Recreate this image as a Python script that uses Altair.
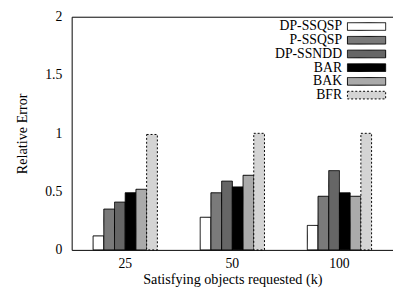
import altair as alt
import pandas as pd

groups = ["25", "50", "100"]
series = ["DP-SSQSP", "P-SSQSP", "DP-SSNDD", "BAR", "BAK", "BFR"]
dp_ssqsp = [0.12, 0.28, 0.21]
p_ssqsp = [0.35, 0.49, 0.46]
dp_ssndd = [0.41, 0.59, 0.68]
bar_vals = [0.49, 0.54, 0.49]
bak = [0.52, 0.64, 0.46]
bfr = [0.99, 1.00, 1.00]
y_ticks = [0, 0.5, 1, 1.5, 2]

fills = ["#ffffff", "#7a7a7a", "#666666", "#000000", "#aaaaaa", "#d4d4d4"]
strokes = ["#000000"] * 6
dashes = [[1, 0], [1, 0], [1, 0], [1, 0], [1, 0], [2, 2]]

values = [dp_ssqsp, p_ssqsp, dp_ssndd, bar_vals, bak, bfr]
rows = []
for s, vals in zip(series, values):
    for g, v in zip(groups, vals):
        rows.append({"k": g, "series": s, "value": v})
df = pd.DataFrame(rows)

FONT = "Liberation Serif, Times New Roman, serif"

legend = alt.Legend(
    title=None, orient="none", legendX=294, legendY=3,
    labelFont=FONT, labelFontSize=14, labelColor="black",
    labelAlign="right", labelOffset={"expr": "-32"},
    symbolType="M-3,-0.6H3V0.6H-3Z", symbolSize=169,
    symbolStrokeColor="black", symbolStrokeWidth=1, rowPadding={"expr": "-2"},
)

x_scale = alt.Scale(paddingInner=0.4, paddingOuter=0.2)
y_scale = alt.Scale(domain=[0, 2], nice=False)
y_axis = alt.Axis(values=y_ticks, format="~g", title="Relative Error",
                  grid=False, ticks=False, labelPadding=10, titlePadding=16)

bars = alt.Chart(df).mark_bar(strokeWidth=1).encode(
    x=alt.X("k:N", sort=groups, scale=x_scale,
            axis=alt.Axis(title="Satisfying objects requested (k)", labelAngle=0,
                          ticks=False, labelPadding=7, titlePadding=2)),
    xOffset=alt.XOffset("series:N", sort=series,
                        scale=alt.Scale(paddingInner=0, paddingOuter=0)),
    y=alt.Y("value:Q", scale=y_scale, axis=y_axis),
    fill=alt.Fill("series:N", sort=series,
                  scale=alt.Scale(domain=series, range=fills), legend=legend),
    stroke=alt.Stroke("series:N", sort=series,
                      scale=alt.Scale(domain=series, range=strokes), legend=legend),
    strokeDash=alt.StrokeDash("series:N", sort=series,
                              scale=alt.Scale(domain=series, range=dashes), legend=legend),
)

# invisible layer that only carries the top frame line (as a top x axis)
frame_top = alt.Chart(df).mark_bar(opacity=0).encode(
    x=alt.X("k:N", sort=groups, scale=x_scale,
            axis=alt.Axis(orient="top", labels=False, ticks=False, title=None,
                          domain=True, grid=False)),
    y=alt.Y("value:Q", scale=y_scale, axis=y_axis),
)

chart = alt.layer(bars, frame_top).resolve_axis(x="independent").properties(
    width=328, height=238,
    padding={"left": 65, "top": 6, "right": 0, "bottom": 37},
    autosize="none",
).configure_view(stroke=None).configure_axis(
    labelFont=FONT, titleFont=FONT,
    labelFontSize=14, titleFontSize=14.5, titleFontWeight="normal",
    labelColor="black", titleColor="black", domainColor="black", domainWidth=1,
)

chart.save("out.html", embed_options={"renderer": "svg", "actions": False})
